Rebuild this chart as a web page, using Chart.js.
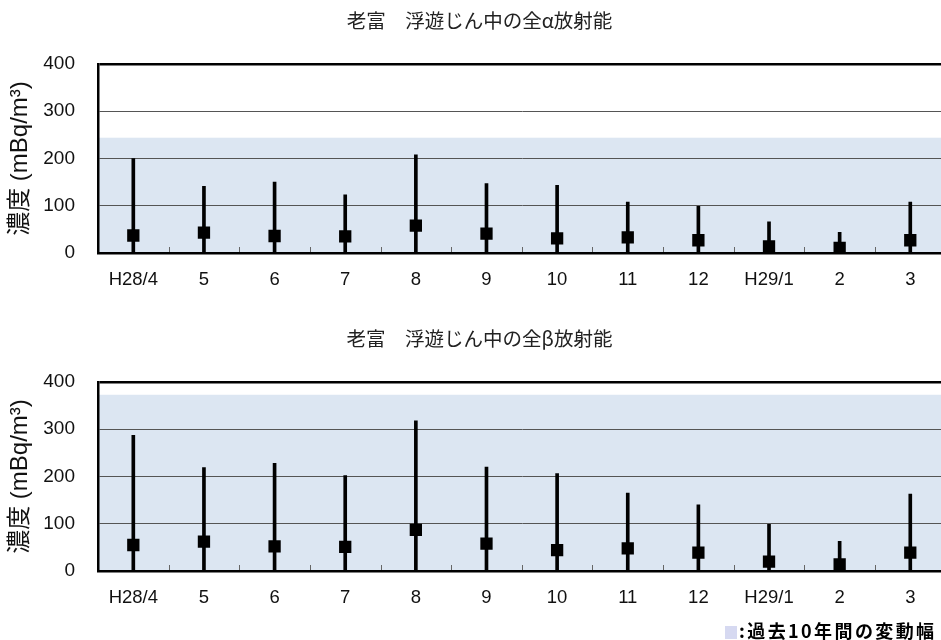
<!DOCTYPE html>
<html lang="ja">
<head>
<meta charset="utf-8">
<script src="https://cdn.jsdelivr.net/npm/chart.js@4/dist/chart.umd.min.js"></script>
<style>
  html, body { margin: 0; padding: 0; background: #fff; overflow: hidden; }
  body { width: 941px; height: 640px; position: relative; }
  .panel { position: absolute; left: 0; width: 959px; height: 300px; }
  #legend {
    position: absolute; left: 725px; top: 619px;
    font-family: "Noto Sans CJK JP", sans-serif; font-weight: bold;
    font-size: 18px; letter-spacing: 2.4px; color: #000; white-space: nowrap;
    line-height: 22px;
  }
  #legend .swatch {
    display: inline-block; width: 12px; height: 13px; background: #d6d9f1;
    vertical-align: -1px; margin-right: 2px;
  }
</style>
</head>
<body>
<div class="panel" style="top:0px"><canvas id="alphaChart" width="959" height="300"></canvas></div>
<div class="panel" style="top:318px"><canvas id="betaChart" width="959" height="300"></canvas></div>
<div id="legend"><span class="swatch"></span>:過去10年間の変動幅</div>
<script>
// Months of fiscal year H28 (April 2016 – March 2017)
const months = ['H28/4', '5', '6', '7', '8', '9', '10', '11', '12', 'H29/1', '2', '3'];
const yTicks = [0, 100, 200, 300, 400];

// Gross alpha activity in airborne dust (mBq/m3): monthly maximum and mean
const alphaMax  = [200, 141, 150, 123, 208, 147, 143, 108, 99, 66, 44, 108];
const alphaMean = [37, 43, 36, 35, 58, 41, 31, 33, 27, 14, 11, 27];
// Upper limit of the previous 10-year range
const alphaRange = [0, 244];

// Gross beta activity in airborne dust (mBq/m3): monthly maximum and mean
const betaMax  = [287, 219, 228, 202, 318, 220, 206, 165, 140, 99, 63, 163];
const betaMean = [55, 62, 52, 51, 87, 58, 44, 48, 39, 20, 14, 39];
const betaRange = [0, 373];

const LATIN = "'Liberation Sans', 'Noto Sans CJK JP', sans-serif";
const CJK = "'Noto Sans CJK JP', 'Liberation Sans', sans-serif";

// Shaded band for the 10-year range, painted beneath the grid
const rangeBand = {
  id: 'rangeBand',
  beforeDraw(chart, args, opts) {
    const { ctx, chartArea, scales: { y } } = chart;
    const top = y.getPixelForValue(opts.range[1]);
    const bottom = y.getPixelForValue(opts.range[0]);
    ctx.save();
    ctx.fillStyle = '#dce6f2';
    ctx.fillRect(chartArea.left, top, chartArea.right - chartArea.left, bottom - top);
    ctx.restore();
  }
};

// Short marks on the category axis between months
const monthDividers = {
  id: 'monthDividers',
  afterDraw(chart) {
    const { ctx, scales: { x, y } } = chart;
    const base = y.getPixelForValue(0);
    ctx.save();
    ctx.strokeStyle = '#666';
    ctx.lineWidth = 1;
    ctx.beginPath();
    for (let i = 1; i < months.length; i++) {
      const px = Math.round((x.getPixelForValue(i - 1) + x.getPixelForValue(i)) / 2) + 0.5;
      ctx.moveTo(px, base - 1);
      ctx.lineTo(px, base - 6);
    }
    ctx.stroke();
    ctx.restore();
  }
};

function makeChart(id, title, maxValues, meanValues, range) {
  return new Chart(document.getElementById(id), {
    type: 'bar',
    data: {
      labels: months,
      datasets: [
        {
          type: 'line',
          label: '平均',
          data: meanValues,
          showLine: false,
          pointStyle: 'rect',
          pointRadius: 8.7,
          pointBackgroundColor: '#000',
          pointBorderWidth: 0,
          order: 0
        },
        {
          label: '最大',
          data: maxValues.map(v => [0, v]),
          backgroundColor: '#000',
          borderWidth: 0,
          barThickness: 3,
          order: 1
        }
      ]
    },
    options: {
      responsive: false,
      animation: false,
      events: [],
      layout: { padding: { left: 13.4, right: 13.4, top: 0, bottom: 0 } },
      plugins: {
        legend: { display: false },
        tooltip: { enabled: false },
        title: {
          display: true,
          text: title,
          color: '#222',
          font: { family: CJK, size: 19.5, weight: 'normal' },
          padding: { top: 9.3, bottom: 31.3 }
        },
        rangeBand: { range: range }
      },
      scales: {
        x: {
          offset: true,
          grid: { display: false, drawTicks: false },
          border: { display: true, color: '#000', width: 2.5 },
          ticks: { color: '#111', font: { family: LATIN, size: 18.5 }, padding: 16, maxRotation: 0, autoSkip: false },
          afterFit(scale) { scale.height = 47; }
        },
        y: {
          min: 0,
          max: 400,
          afterBuildTicks(scale) { scale.ticks = yTicks.map(v => ({ value: v })); },
          grid: {
            drawTicks: false,
            color: ctx => ctx.tick && ctx.tick.value === 400 ? '#000' : '#555',
            lineWidth: ctx => ctx.tick && ctx.tick.value === 400 ? 2.5 : 1
          },
          border: { display: true, color: '#000', width: 2.5 },
          ticks: { color: '#111', font: { family: LATIN, size: 19 }, padding: 23 },
          title: {
            display: true,
            text: '濃度 (mBq/m³)',
            color: '#111',
            font: { family: LATIN, size: 24 },
            padding: { top: -7.8, bottom: 0 }
          },
          afterFit(scale) { scale.width = 84.6; }
        }
      }
    },
    plugins: [rangeBand, monthDividers]
  });
}

makeChart('alphaChart', '老富　浮遊じん中の全α放射能', alphaMax, alphaMean, alphaRange);
makeChart('betaChart', '老富　浮遊じん中の全β放射能', betaMax, betaMean, betaRange);
</script>
</body>
</html>
